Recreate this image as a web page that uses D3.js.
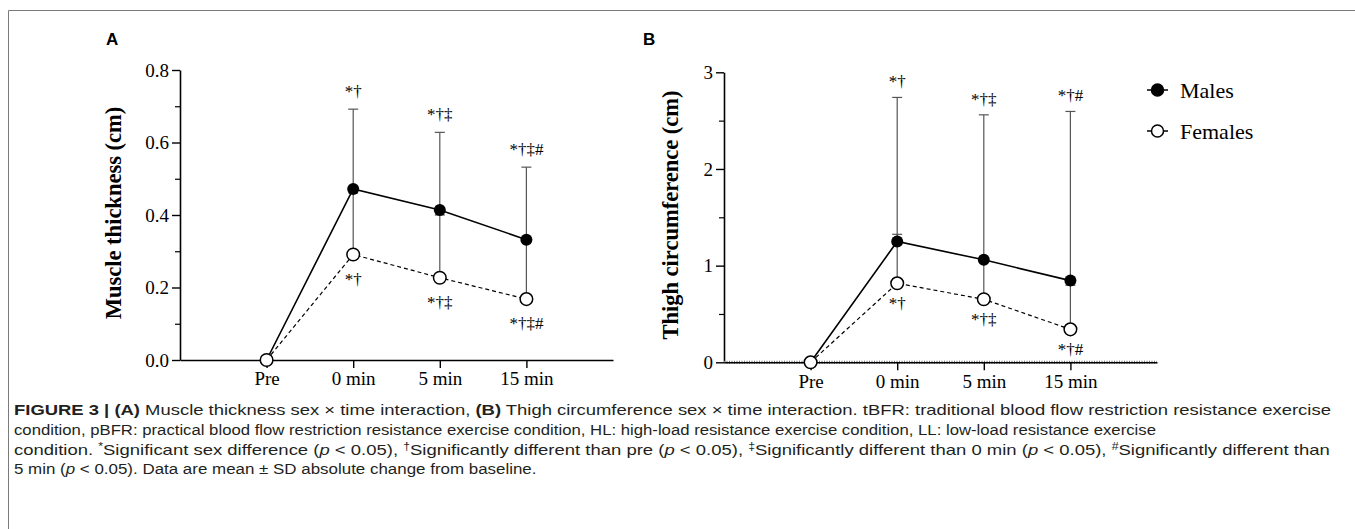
<!DOCTYPE html>
<html>
<head>
<meta charset="utf-8">
<script src="https://cdn.jsdelivr.net/npm/d3@7"></script>
<style>
  body { margin: 0; background: #fff; }
  svg { display: block; }
</style>
</head>
<body>
<div id="chart"></div>
<script>
let svgWidth = 1355,
    svgHeight = 529

// time points
let times = ['Pre', '0 min', '5 min', '15 min']

// panel A: muscle thickness (cm)
let malesThick = [0, 0.472, 0.414, 0.332]
let malesThickSd = [0, 0.22, 0.214, 0.2]
let femalesThick = [0, 0.291, 0.227, 0.168]
let femalesThickSd = [0, 0.17, 0.173, 0.16]
let thickTicks = [0, 0.2, 0.4, 0.6, 0.8]
let thickMinor = [0.1, 0.3, 0.5, 0.7]
let thickAbove = ['', '*†', '*†‡', '*†‡#']
let thickBelow = ['', '*†', '*†‡', '*†‡#']

// panel B: thigh circumference (cm)
let malesCirc = [0, 1.25, 1.06, 0.845]
let malesCircSd = [0, 1.49, 1.5, 1.75]
let femalesCirc = [0, 0.817, 0.652, 0.341]
let femalesCircSd = [0, 0.507, 0.4, 0.456]
let circTicks = [0, 1, 2, 3]
let circMinor = [0.5, 1.5, 2.5]
let circAbove = ['', '*†', '*†‡', '*†#']
let circBelow = ['', '*†', '*†‡', '*†#']

let serif = '"Liberation Serif", "Times New Roman", serif'
let sans = '"Liberation Sans", Arial, sans-serif'

let svg = d3.select('#chart')
    .append('svg')
    .attr('width', svgWidth)
    .attr('height', svgHeight)

// frame around the figure
svg.append('path')
    .attr('d', `M8.5,${svgHeight} V10.5 H${svgWidth}`)
    .attr('fill', 'none')
    .attr('stroke', '#7a7a7a')
    .attr('stroke-width', 1)

function drawPanel(p) {
    let g = svg.append('g')

    let x = d3.scalePoint()
        .domain(times)
        .range(p.xRange)
        .padding(1)

    let y = d3.scaleLinear()
        .domain(p.yDomain)
        .range(p.yRange)

    // minor y ticks
    g.append('g')
        .attr('transform', `translate(${p.xRange[0]},0)`)
        .call(d3.axisLeft(y).tickValues(p.minor).tickSize(5).tickSizeOuter(0).tickFormat(''))
        .call(a => a.select('.domain').remove())
        .selectAll('line').attr('stroke', '#000').attr('stroke-width', 1.2)

    // major y ticks
    let yAxis = g.append('g')
        .attr('transform', `translate(${p.xRange[0]},0)`)
        .call(d3.axisLeft(y).tickValues(p.ticks).tickSize(8).tickSizeOuter(0).tickPadding(3).tickFormat(p.format))
    yAxis.select('.domain').attr('stroke', '#000').attr('stroke-width', 1.6)
    yAxis.selectAll('line').attr('stroke', '#000').attr('stroke-width', 1.4)
    yAxis.selectAll('text')
        .attr('font-family', serif)
        .attr('font-size', 19)
        .attr('fill', '#000')

    if (p.hatched) {
        // the B axis shows a fine hatched band along its line
        g.append('line')
            .attr('x1', p.xRange[0]).attr('x2', p.xRange[1])
            .attr('y1', p.yRange[0]).attr('y2', p.yRange[0])
            .attr('stroke', '#777')
            .attr('stroke-width', 3)
            .attr('stroke-dasharray', '1,1.5')
    }

    // x axis
    let xAxis = g.append('g')
        .attr('transform', `translate(0,${y(0)})`)
        .call(d3.axisBottom(x).tickSize(8).tickSizeOuter(0).tickPadding(4))
    xAxis.select('.domain').attr('stroke', '#000').attr('stroke-width', 1.6)
    xAxis.selectAll('line').attr('stroke', '#000').attr('stroke-width', 1.4)
    xAxis.selectAll('text')
        .attr('font-family', serif)
        .attr('font-size', 19)
        .attr('fill', '#000')

    // axis title
    g.append('text')
        .attr('transform', `translate(${p.titleX},${p.titleY}) rotate(-90)`)
        .attr('text-anchor', 'middle')
        .attr('font-family', serif)
        .attr('font-weight', 'bold')
        .attr('font-size', 22.5)
        .attr('fill', '#000')
        .text(p.title)

    // panel letter
    g.append('text')
        .attr('x', p.letterX)
        .attr('y', 45)
        .attr('font-family', sans)
        .attr('font-weight', 'bold')
        .attr('font-size', 17)
        .attr('fill', '#000')
        .text(p.letter)

    let idx = d3.range(times.length)

    // error bars (upper only), males then females
    let bars = [
        { mean: p.males, sd: p.malesSd },
        { mean: p.females, sd: p.femalesSd }
    ]
    bars.forEach(b => {
        let eb = g.append('g').selectAll('g')
            .data(idx.filter(i => b.sd[i] > 0))
            .enter().append('g')
            .attr('stroke', '#555')
            .attr('stroke-width', 1.2)
        eb.append('line')
            .attr('x1', i => x(times[i])).attr('x2', i => x(times[i]))
            .attr('y1', i => y(b.mean[i])).attr('y2', i => y(b.mean[i] + b.sd[i]))
        eb.append('line')
            .attr('x1', i => x(times[i]) - 5).attr('x2', i => x(times[i]) + 5)
            .attr('y1', i => y(b.mean[i] + b.sd[i])).attr('y2', i => y(b.mean[i] + b.sd[i]))
    })

    let line = d3.line()
        .x(i => x(times[i]))

    g.append('path')
        .datum(idx)
        .attr('d', line.y(i => y(p.males[i])))
        .attr('fill', 'none')
        .attr('stroke', '#000')
        .attr('stroke-width', 1.6)

    g.append('path')
        .datum(idx)
        .attr('d', line.y(i => y(p.females[i])))
        .attr('fill', 'none')
        .attr('stroke', '#000')
        .attr('stroke-width', 1.2)
        .attr('stroke-dasharray', '4,3')

    g.selectAll('.male')
        .data(idx)
        .enter().append('circle')
        .attr('class', 'male')
        .attr('cx', i => x(times[i]))
        .attr('cy', i => y(p.males[i]))
        .attr('r', 6)
        .attr('fill', '#000')

    g.selectAll('.female')
        .data(idx)
        .enter().append('circle')
        .attr('class', 'female')
        .attr('cx', i => x(times[i]))
        .attr('cy', i => y(p.females[i]))
        .attr('r', 6.3)
        .attr('fill', '#fff')
        .attr('stroke', '#000')
        .attr('stroke-width', 1.5)

    // significance marks
    g.selectAll('.above')
        .data(idx.filter(i => p.above[i]))
        .enter().append('text')
        .attr('class', 'above')
        .attr('x', i => x(times[i]))
        .attr('y', i => y(p.males[i] + p.malesSd[i]) - p.aboveGap)
        .attr('text-anchor', 'middle')
        .attr('font-family', serif)
        .attr('font-size', 17)
        .attr('fill', '#000')
        .text(i => p.above[i])

    g.selectAll('.below')
        .data(idx.filter(i => p.below[i]))
        .enter().append('text')
        .attr('class', 'below')
        .attr('x', i => x(times[i]))
        .attr('y', i => y(p.females[i]) + p.belowGap)
        .attr('text-anchor', 'middle')
        .attr('font-family', serif)
        .attr('font-size', 17)
        .attr('fill', '#000')
        .text(i => p.below[i])
}

drawPanel({
    letter: 'A', letterX: 106,
    xRange: [180, 613], yDomain: [0, 0.8], yRange: [360, 70],
    ticks: thickTicks, minor: thickMinor, format: d3.format('.1f'),
    title: 'Muscle thickness (cm)', titleX: 121, titleY: 213,
    males: malesThick, malesSd: malesThickSd,
    females: femalesThick, femalesSd: femalesThickSd,
    above: thickAbove, below: thickBelow, aboveGap: 12, belowGap: 30
})

drawPanel({
    letter: 'B', letterX: 643,
    xRange: [724, 1157], yDomain: [0, 3], yRange: [362.3, 72.3],
    ticks: circTicks, minor: circMinor, format: d3.format('d'), hatched: true,
    title: 'Thigh circumference (cm)', titleX: 678, titleY: 215,
    males: malesCirc, malesSd: malesCircSd,
    females: femalesCirc, femalesSd: femalesCircSd,
    above: circAbove, below: circBelow, aboveGap: 10, belowGap: 26
})

// legend
let legend = svg.append('g')
    .attr('transform', 'translate(1147,0)')

let legendItems = legend.selectAll('g')
    .data([
        { label: 'Males', fill: '#000', y: 90 },
        { label: 'Females', fill: '#fff', y: 131 }
    ])
    .enter().append('g')
    .attr('transform', d => `translate(0,${d.y})`)

legendItems.append('line')
    .attr('x1', 0).attr('x2', 21)
    .attr('stroke', '#000').attr('stroke-width', 1.5)

legendItems.append('circle')
    .attr('cx', 10.5)
    .attr('r', 6)
    .attr('fill', d => d.fill)
    .attr('stroke', '#000')
    .attr('stroke-width', 1.5)

legendItems.append('text')
    .attr('x', 33)
    .attr('y', 8)
    .attr('font-family', serif)
    .attr('font-size', 22)
    .attr('fill', '#000')
    .text(d => d.label)

// caption, each line squeezed to the width it has in the figure
let captionLines = [
    { y: 415, end: 1332, parts: [
        { t: 'FIGURE 3 | ', b: true }, { t: '(A)', b: true },
        { t: ' Muscle thickness sex × time interaction, ' }, { t: '(B)', b: true },
        { t: ' Thigh circumference sex × time interaction. tBFR: traditional blood flow restriction resistance exercise' }
    ] },
    { y: 435, end: 1157, parts: [
        { t: 'condition, pBFR: practical blood flow restriction resistance exercise condition, HL: high-load resistance exercise condition, LL: low-load resistance exercise' }
    ] },
    { y: 454.5, end: 1330, parts: [
        { t: 'condition. ' }, { t: '*', s: true }, { t: 'Significant sex difference (' }, { t: 'p', i: true }, { t: ' < 0.05), ' },
        { t: '†', s: true }, { t: 'Significantly different than pre (' }, { t: 'p', i: true }, { t: ' < 0.05), ' },
        { t: '‡', s: true }, { t: 'Significantly different than 0 min (' }, { t: 'p', i: true }, { t: ' < 0.05), ' },
        { t: '#', s: true }, { t: 'Significantly different than' }
    ] },
    { y: 474, end: 537, parts: [
        { t: '5 min (' }, { t: 'p', i: true }, { t: ' < 0.05). Data are mean ± SD absolute change from baseline.' }
    ] }
]

captionLines.forEach(l => {
    let text = svg.append('text')
        .attr('font-family', sans)
        .attr('font-size', 15)
        .attr('fill', '#231f20')
    let shift = 0
    l.parts.forEach(pt => {
        let ts = text.append('tspan').text(pt.t)
        if (pt.b) ts.attr('font-weight', 'bold')
        if (pt.i) ts.attr('font-style', 'italic')
        if (pt.s) {
            ts.attr('font-size', 10).attr('dy', -5)
            shift = 5
        } else if (shift) {
            ts.attr('dy', shift)
            shift = 0
        }
    })
    let w = text.node().getComputedTextLength()
    let k = (l.end - 14) / w
    text.attr('transform', `translate(14,${l.y}) scale(${k},1)`)
})
</script>
</body>
</html>
